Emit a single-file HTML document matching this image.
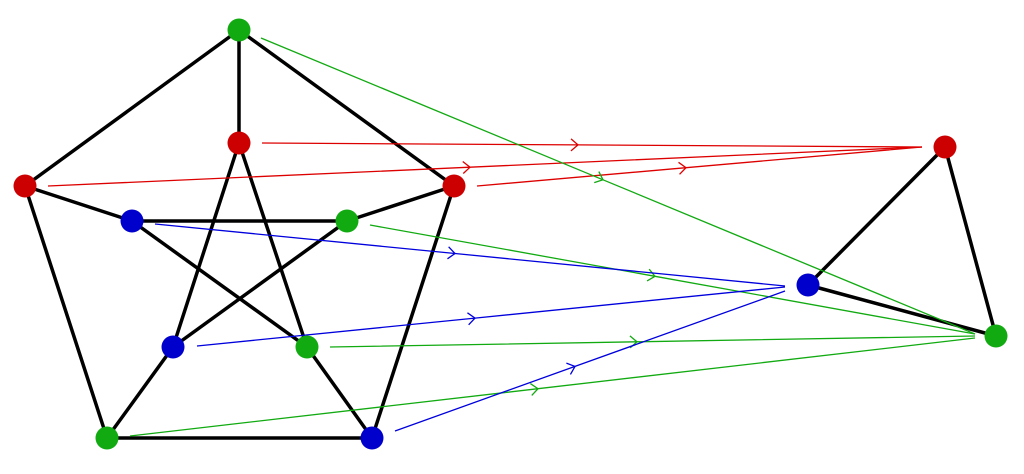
<!DOCTYPE html>
<html><head><meta charset="utf-8"><style>html,body{margin:0;padding:0;background:#fff;}svg{display:block}</style></head>
<body>
<svg width="1024" height="474" viewBox="0 0 1024 474" xmlns="http://www.w3.org/2000/svg">
<defs>
<marker id="ar" markerUnits="userSpaceOnUse" markerWidth="20" markerHeight="20" refX="0" refY="0" viewBox="-10 -10 20 20" orient="auto"><path d="M-7,-6 L0,0 L-7,6" fill="none" stroke="#d00" stroke-width="1.3"/></marker>
<marker id="ag" markerUnits="userSpaceOnUse" markerWidth="20" markerHeight="20" refX="0" refY="0" viewBox="-10 -10 20 20" orient="auto"><path d="M-7,-6 L0,0 L-7,6" fill="none" stroke="#1a1" stroke-width="1.3"/></marker>
<marker id="ab" markerUnits="userSpaceOnUse" markerWidth="20" markerHeight="20" refX="0" refY="0" viewBox="-10 -10 20 20" orient="auto"><path d="M-7,-6 L0,0 L-7,6" fill="none" stroke="#00d" stroke-width="1.3"/></marker>
</defs>
<g stroke="#000" stroke-width="3.5" fill="none">
<line x1="239" y1="30" x2="25" y2="186"/>
<line x1="239" y1="30" x2="454" y2="186"/>
<line x1="25" y1="186" x2="107" y2="438"/>
<line x1="454" y1="186" x2="372" y2="438"/>
<line x1="107" y1="438" x2="372" y2="438"/>
<line x1="239" y1="30" x2="239" y2="143"/>
<line x1="25" y1="186" x2="132" y2="221"/>
<line x1="454" y1="186" x2="347" y2="221"/>
<line x1="107" y1="438" x2="173" y2="347"/>
<line x1="372" y1="438" x2="307" y2="347"/>
<line x1="239" y1="143" x2="173" y2="347"/>
<line x1="239" y1="143" x2="307" y2="347"/>
<line x1="132" y1="221" x2="347" y2="221"/>
<line x1="132" y1="221" x2="307" y2="347"/>
<line x1="347" y1="221" x2="173" y2="347"/>
<line x1="945" y1="147" x2="808" y2="285"/>
<line x1="945" y1="147" x2="996" y2="336"/>
<line x1="808" y1="285" x2="996" y2="336"/>
</g>
<g fill="none" stroke-width="1.3">
<polyline stroke="#d00" marker-mid="url(#ar)" points="262,143 578,144.9 922,147"/>
<polyline stroke="#d00" marker-mid="url(#ar)" points="48,186 470,167.2 922,147"/>
<polyline stroke="#d00" marker-mid="url(#ar)" points="477,186 686,167.7 922,147"/>
<polyline stroke="#1a1" marker-mid="url(#ag)" points="261,38 603,179.8 975,334"/>
<polyline stroke="#1a1" marker-mid="url(#ag)" points="370,225 655,276.3 975,334"/>
<polyline stroke="#1a1" marker-mid="url(#ag)" points="330,347 637,341.8 975,336"/>
<polyline stroke="#1a1" marker-mid="url(#ag)" points="130,436 538,388.7 975,338"/>
<polyline stroke="#00d" marker-mid="url(#ab)" points="155,224 455,253.5 785,286"/>
<polyline stroke="#00d" marker-mid="url(#ab)" points="197,346 475,318.1 785,287"/>
<polyline stroke="#00d" marker-mid="url(#ab)" points="395,431 575,366.4 785,291"/>
</g>
<g>
<circle cx="239" cy="30" r="11.5" fill="#1a1"/>
<circle cx="239" cy="143" r="11.5" fill="#c00"/>
<circle cx="25" cy="186" r="11.5" fill="#c00"/>
<circle cx="454" cy="186" r="11.5" fill="#c00"/>
<circle cx="132" cy="221" r="11.5" fill="#00c"/>
<circle cx="347" cy="221" r="11.5" fill="#1a1"/>
<circle cx="173" cy="347" r="11.5" fill="#00c"/>
<circle cx="307" cy="347" r="11.5" fill="#1a1"/>
<circle cx="107" cy="438" r="11.5" fill="#1a1"/>
<circle cx="372" cy="438" r="11.5" fill="#00c"/>
<circle cx="945" cy="147" r="11.5" fill="#c00"/>
<circle cx="808" cy="285" r="11.5" fill="#00c"/>
<circle cx="996" cy="336" r="11.5" fill="#1a1"/>
</g>
</svg>
</body></html>
